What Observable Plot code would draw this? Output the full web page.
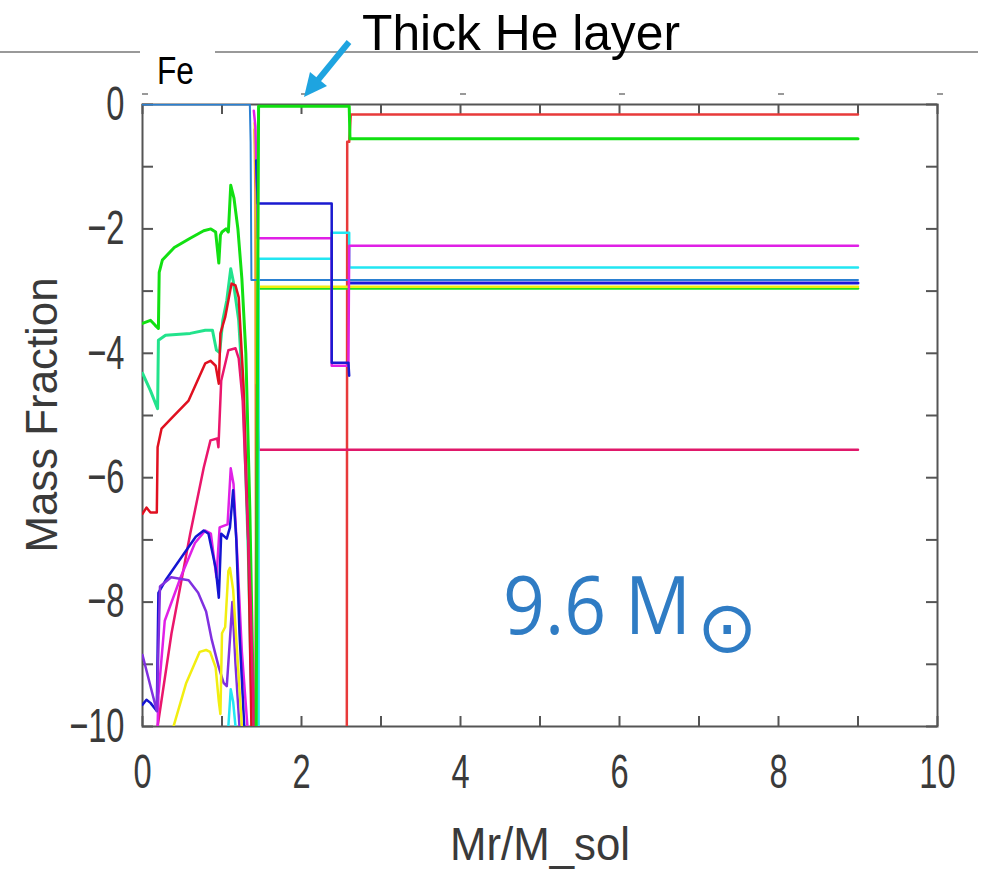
<!DOCTYPE html>
<html><head><meta charset="utf-8">
<script src="https://cdn.jsdelivr.net/npm/d3@7"></script>
<script src="https://cdn.jsdelivr.net/npm/@observablehq/plot@0.6"></script>
<style>
body{margin:0;background:#fff}
#chart{position:relative;width:981px;height:870px;overflow:hidden}
</style>
</head><body><div id="chart"></div>
<script>
// ---- tick definitions ----
const xTicks = [0,1,2,3,4,5,6,7,8,9,10];
const xLabelTicks = [0,2,4,6,8,10];
const yTicks = [0,-1,-2,-3,-4,-5,-6,-7,-8,-9,-10];
const yLabelTicks = [0,-2,-4,-6,-8,-10];

// ---- series (Mr/M_sol, log mass fraction) ----
const greenCore_x = [0,0.1,0.16,0.2,0.21,0.25,0.4,0.6,0.77,0.86,0.92,0.96,0.98,1.0,1.05,1.08,1.11,1.15,1.2,1.25,1.3,1.35,1.4];
const greenCore_y = [-3.52,-3.47,-3.55,-3.6,-2.7,-2.5,-2.3,-2.15,-2.03,-2.0,-2.05,-2.55,-2.1,-2.05,-2.0,-2.05,-1.3,-1.5,-2.0,-2.8,-4.0,-6.5,-10];

const spring_x = [0,0.1,0.19,0.2,0.29,0.6,0.79,0.88,0.93,0.97,1.01,1.06,1.11,1.14,1.21,1.27,1.33,1.38];
const spring_y = [-4.32,-4.6,-4.89,-3.79,-3.71,-3.68,-3.63,-3.63,-3.95,-3.99,-3.47,-3.15,-2.64,-2.83,-3.47,-4.76,-7.17,-10];

const redCore_x = [0,0.05,0.1,0.18,0.19,0.24,0.36,0.58,0.79,0.855,0.92,0.96,0.98,1.04,1.12,1.17,1.21,1.27,1.33,1.37];
const redCore_y = [-6.58,-6.48,-6.56,-6.56,-5.51,-5.21,-5.05,-4.76,-4.16,-4.12,-4.2,-4.49,-3.68,-3.42,-2.88,-2.91,-3.1,-4.5,-7.0,-10];

const crimson_x = [0.19,0.365,0.6,0.77,0.855,0.94,0.955,0.99,1.08,1.17,1.21,1.26,1.31,1.36,1.4];
const crimson_y = [-10,-8.5,-6.9,-5.84,-5.4,-5.37,-5.51,-4.44,-3.95,-3.92,-4.08,-4.76,-6.37,-7.97,-10];

const magenta_x = [0.19,0.2,0.28,0.48,0.66,0.79,0.86,0.93,0.97,1.07,1.11,1.145,1.19,1.25,1.32];
const magenta_y = [-10,-9.5,-8.3,-7.6,-7.05,-6.85,-6.9,-7.6,-6.8,-6.75,-5.85,-6.1,-7.2,-8.8,-10];

const blue_x = [0,0.05,0.1,0.18,0.2,0.29,0.49,0.67,0.77,0.83,0.92,0.96,0.99,1.06,1.1,1.14,1.18,1.22,1.28];
const blue_y = [-9.65,-9.57,-9.62,-9.75,-7.85,-7.65,-7.28,-6.95,-6.85,-6.9,-7.45,-7.93,-6.9,-6.98,-6.8,-6.2,-7.0,-8.5,-10];

const violet_x = [0,0.05,0.18,0.22,0.36,0.58,0.7,0.8,0.87,0.96,1.02,1.06,1.1,1.13,1.17,1.22];
const violet_y = [-8.85,-9.1,-9.75,-7.75,-7.6,-7.65,-7.85,-8.15,-8.6,-9.05,-9.3,-9.35,-8.6,-8.0,-9.0,-10];

const yellow_x = [0.39,0.55,0.72,0.8,0.85,0.92,0.96,0.98,1.0,1.04,1.08,1.1,1.14,1.2,1.25];
const yellow_y = [-10,-9.3,-8.8,-8.77,-8.8,-9.05,-9.6,-9.8,-8.5,-8.4,-7.5,-7.45,-7.8,-9.0,-10];

const cyanCore_x = [1.08,1.11,1.14,1.17];
const cyanCore_y = [-10,-9.4,-9.6,-10];

const feBlue_x = [0,1.35,1.36,1.37,9];
const feBlue_y = [0,0,-0.6,-2.82,-2.82];

const heGreen_x = [1.43,1.45,1.46,2.6,2.61,9];
const heGreen_y = [-10,-3,-0.03,-0.03,-0.55,-0.55];

const greenOuter_x = [1.46,9];
const greenOuter_y = [-2.96,-2.96];

const yellowOuter_x = [1.41,1.43,1.45,1.46,9];
const yellowOuter_y = [-0.3,-1.2,-2.6,-2.93,-2.93];

const redOuter_x = [2.57,2.575,2.6,2.62,9];
const redOuter_y = [-10,-0.6,-0.6,-0.16,-0.16];

const crimsonOuter_x = [1.42,1.44,1.45,1.46,9];
const crimsonOuter_y = [-10,-4.5,-5.2,-5.55,-5.55];

const magentaOuter_x = [1.40,1.42,1.45,2.38,2.38,2.59,2.6,9];
const magentaOuter_y = [-0.1,-0.35,-2.15,-2.15,-4.2,-4.2,-2.27,-2.27];

const blueOuter_x = [1.43,1.45,2.38,2.38,2.59,2.6];
const blueOuter_y = [-0.9,-1.59,-1.59,-4.15,-4.15,-4.36];

const blueFlat_x = [2.6,9];
const blueFlat_y = [-2.87,-2.87];

const cyanOuter_x = [1.46,1.46,2.38,2.38,2.6,2.6,9];
const cyanOuter_y = [-10,-2.48,-2.48,-2.06,-2.06,-2.62,-2.62];

const orange_x = [1.41,1.42,1.43];
const orange_y = [-0.4,-1.4,-10];

const series = [
  ["redOuter", redOuter_x, redOuter_y, "#e83a3a", 2.5],
  ["greenCore", greenCore_x, greenCore_y, "#12e012", 3],
  ["spring", spring_x, spring_y, "#22e38c", 3],
  ["redCore", redCore_x, redCore_y, "#e01020", 2.5],
  ["crimson", crimson_x, crimson_y, "#ea166c", 2.5],
  ["magenta", magenta_x, magenta_y, "#e020e6", 2.5],
  ["blue", blue_x, blue_y, "#1414d2", 2.5],
  ["violet", violet_x, violet_y, "#8030e0", 2.5],
  ["yellow", yellow_x, yellow_y, "#f2ee10", 2.5],
  ["cyanCore", cyanCore_x, cyanCore_y, "#22e6f2", 2.5],
  ["orange", orange_x, orange_y, "#f0a020", 2.5],
  ["crimsonOuter", crimsonOuter_x, crimsonOuter_y, "#e0186a", 2.5],
  ["greenOuter", greenOuter_x, greenOuter_y, "#22e022", 2.5],
  ["yellowOuter", yellowOuter_x, yellowOuter_y, "#f2ee10", 2.5],
  ["blueFlat", blueFlat_x, blueFlat_y, "#1a1ad8", 3],
  ["feBlue", feBlue_x, feBlue_y, "#2a80d2", 2],
  ["cyanOuter", cyanOuter_x, cyanOuter_y, "#22e6f2", 2.5],
  ["magentaOuter", magentaOuter_x, magentaOuter_y, "#e020e6", 2.5],
  ["blueOuter", blueOuter_x, blueOuter_y, "#1a1ad0", 2.5],
  ["heGreen", heGreen_x, heGreen_y, "#10e010", 3]
];

const lineMarks = series.map(([name, xs, ys, color, w]) =>
  Plot.line(xs.map((x, i) => ({x, y: ys[i]})), {x: "x", y: "y", stroke: color, strokeWidth: w, clip: true})
);

const sans = "'Liberation Sans', Arial, sans-serif";
const frameColor = "#555";
const fmt = d => d < 0 ? "\u2212" + Math.abs(d) : String(d);
const plot = Plot.plot({
  width: 981, height: 870,
  marginLeft: 142, marginRight: 44, marginTop: 104, marginBottom: 144,
  x: {domain: [0, 10]},
  y: {domain: [-10, 0]},
  style: {fontFamily: sans, background: "white", overflow: "visible"},
  marks: [
    Plot.frame({stroke: frameColor, strokeWidth: 2}),
    Plot.tickX(xTicks, {x: d => d, insetTop: 612, stroke: frameColor, strokeWidth: 2}),
    Plot.tickX(xTicks, {x: d => d, insetBottom: 612, stroke: frameColor, strokeWidth: 2}),
    Plot.tickY(yTicks, {y: d => d, insetRight: 784, stroke: frameColor, strokeWidth: 2}),
    Plot.tickY(yTicks, {y: d => d, insetLeft: 784, stroke: frameColor, strokeWidth: 2}),
    ...lineMarks,
    Plot.axisX(xLabelTicks, {anchor: "bottom", tickSize: 0, tickPadding: 27, fontSize: 48, fill: "#3a3a3a", label: null, tickFormat: fmt}),
    Plot.axisY(yLabelTicks, {anchor: "left", tickSize: 0, tickPadding: 18, fontSize: 48, fill: "#3a3a3a", label: null, tickFormat: fmt})
  ]
});
document.getElementById("chart").appendChild(plot);

const svg = d3.select(plot);
const sx = plot.scale("x");

// condensed look for tick labels (gnuplot-like narrow font)
svg.selectAll("g[aria-label='x-axis tick label'] text, g[aria-label='y-axis tick label'] text").each(function() {
  const t = this.getAttribute("transform") || "";
  this.setAttribute("transform", t + " scale(0.68,1)");
});

// faint top marks above the frame at labelled x
xLabelTicks.forEach(v => {
  svg.append("line").attr("x1", sx.apply(v)).attr("x2", sx.apply(v)+6)
    .attr("y1", 94).attr("y2", 94).attr("stroke", "#999").attr("stroke-width", 2);
});

// axis titles
svg.append("text").attr("x", 540).attr("y", 860).attr("text-anchor", "middle")
  .attr("font-family", sans).attr("font-size", 46).attr("fill", "#3a3a3a")
  .attr("textLength", 180).attr("lengthAdjust", "spacingAndGlyphs").text("Mr/M_sol");
svg.append("text").attr("transform", "translate(57,415) rotate(-90)").attr("text-anchor", "middle")
  .attr("font-family", sans).attr("font-size", 44).attr("fill", "#3a3a3a")
  .attr("textLength", 275).attr("lengthAdjust", "spacingAndGlyphs").text("Mass Fraction");

// slide decorations
svg.append("line").attr("x1", 0).attr("x2", 140).attr("y1", 52).attr("y2", 52).attr("stroke", "#777").attr("stroke-width", 1.3);
svg.append("line").attr("x1", 215).attr("x2", 978).attr("y1", 52).attr("y2", 52).attr("stroke", "#777").attr("stroke-width", 1.3);
svg.append("text").attr("x", 362).attr("y", 50).attr("text-anchor", "start").attr("font-family", sans).attr("font-size", 50)
  .attr("fill", "#000").attr("textLength", 318).attr("lengthAdjust", "spacingAndGlyphs").text("Thick He layer");
svg.append("text").attr("x", 157).attr("y", 84).attr("text-anchor", "start").attr("font-family", sans).attr("font-size", 38)
  .attr("fill", "#000").attr("textLength", 37).attr("lengthAdjust", "spacingAndGlyphs").text("Fe");

// arrow
svg.append("line").attr("x1", 349).attr("y1", 42).attr("x2", 318).attr("y2", 80)
  .attr("stroke", "#1ea4e0").attr("stroke-width", 6);
svg.append("path").attr("d", "M304,97 L310,72 L327,86 Z").attr("fill", "#1ea4e0");

// mass label: "9.6 M" with the solar symbol as a subscript, in one text element
const blueText = "#2f7cc4";
const massLabel = svg.append("text").attr("x", 503).attr("y", 634).attr("text-anchor", "start").attr("fill", blueText);
massLabel.append("tspan").attr("font-family", "'Open Sans', sans-serif").attr("font-size", 80)
  .attr("textLength", 188).attr("lengthAdjust", "spacingAndGlyphs").text("9.6 M");
massLabel.append("tspan").attr("x", 697).attr("y", 652).attr("font-family", "'DejaVu Sans', sans-serif")
  .attr("font-size", 72).text("⊙");

// clip the "10" label at the image edge like the source
svg.append("rect").attr("x", 955).attr("y", 735).attr("width", 30).attr("height", 60).attr("fill", "white");
</script>
</body></html>
